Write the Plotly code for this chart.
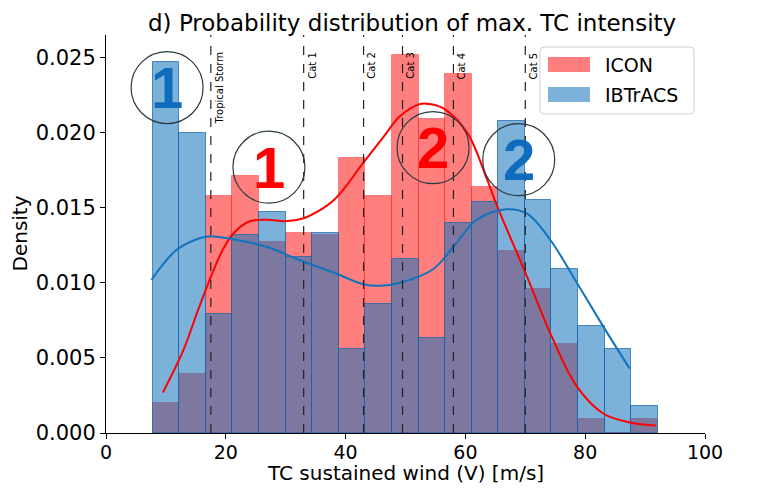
import plotly.graph_objects as go

# ---------------- data ----------------
bin_start = 7.8
bin_width = 4.437
icon_density = [0.0020, 0.0039, 0.0158, 0.0171, 0.0127, 0.0133, 0.0132, 0.0183, 0.0158, 0.0252,
                0.0209, 0.0239, 0.0164, 0.0121, 0.0096, 0.0059, 0.0009, 0.0, 0.0009]
ibtracs_density = [0.0247, 0.0200, 0.0079, 0.0132, 0.0147, 0.0117, 0.0133, 0.0056, 0.0086, 0.0116,
                   0.0063, 0.0140, 0.0154, 0.0208, 0.0155, 0.0109, 0.0071, 0.0056, 0.0018]

icon_kde_x = [9.5, 12.9, 15.2, 17.5, 19.5, 21.3, 24.0, 27.0, 30.0, 33.0, 36.0, 38.0, 40.0, 42.4,
              46.3, 49.1, 52.4, 54.0, 56.4, 60.3, 63.6, 65.3, 70.3, 74.1, 78.6, 83.0, 87.5, 91.8]
icon_kde_y = [0.0027, 0.0055, 0.0080, 0.0104, 0.0122, 0.0133, 0.0141, 0.0142, 0.0141, 0.0143,
              0.0149, 0.0155, 0.0164, 0.0177, 0.0197, 0.0211, 0.0219, 0.0219, 0.0216, 0.0200,
              0.0169, 0.0151, 0.0104, 0.0067, 0.0031, 0.0013, 0.0007, 0.0005]

ibtracs_kde_x = [7.6, 11.8, 15.9, 17.5, 21.2, 26.8, 32.4, 37.9, 43.0, 45.7, 49.1, 54.6, 58.0,
                 61.9, 66.9, 70.3, 74.1, 78.6, 83.0, 87.4]
ibtracs_kde_y = [0.0102, 0.0122, 0.0130, 0.0131, 0.0129, 0.0124, 0.0115, 0.0107, 0.0099, 0.0098,
                 0.0100, 0.0109, 0.0124, 0.0142, 0.0149, 0.0146, 0.0129, 0.0100, 0.0071, 0.0043]

category_names = ["Tropical Storm", "Cat 1", "Cat 2", "Cat 3", "Cat 4", "Cat 5"]
category_thresholds = [17.5, 33, 43, 49.5, 58, 70]

markers = [  # label, x, y, color
    ("1", 10.2, 0.0230, "#0f6cbd"),
    ("1", 27.2, 0.0177, "#ff0000"),
    ("2", 54.6, 0.0190, "#ff0000"),
    ("2", 68.9, 0.0182, "#0f6cbd"),
]

series_names = ["ICON", "IBTrACS"]
x_ticks = [0, 20, 40, 60, 80, 100]
y_ticks = [0.000, 0.005, 0.010, 0.015, 0.020, 0.025]
title_text = "d) Probability distribution of max. TC intensity"
x_title = "TC sustained wind (V) [m/s]"
y_title = "Density"

# ---------------- styling ----------------
FONT = "DejaVu Sans"
RED_FILL = "rgba(255,0,0,0.5)"
BLUE_FILL = "rgba(17,115,187,0.55)"
RED_LINE = "#ff0000"
BLUE_LINE = "#1173bb"

W, H = 749, 485           # page body has an 8px margin
ML, MR, MT, MB = 98, 52, 27, 60
PW, PH = W - ML - MR, H - MT - MB

centers = [bin_start + bin_width * (i + 0.5) for i in range(len(icon_density))]

fig = go.Figure()
fig.add_trace(go.Bar(x=centers, y=icon_density, width=bin_width, name=series_names[0],
                     marker=dict(color=RED_FILL, line=dict(color="rgba(255,0,0,0.35)", width=1)),
                     showlegend=False))
fig.add_trace(go.Bar(x=centers, y=ibtracs_density, width=bin_width, name=series_names[1],
                     marker=dict(color=BLUE_FILL, line=dict(color="rgba(17,100,170,0.7)", width=1)),
                     showlegend=False))
fig.add_trace(go.Scatter(x=icon_kde_x, y=icon_kde_y, mode="lines", line=dict(color=RED_LINE, width=2, shape="spline"),
                         showlegend=False, hoverinfo="skip"))
fig.add_trace(go.Scatter(x=ibtracs_kde_x, y=ibtracs_kde_y, mode="lines", line=dict(color=BLUE_LINE, width=2, shape="spline"),
                         showlegend=False, hoverinfo="skip"))

shapes = []
annotations = []
# category lines
for name, thr in zip(category_names, category_thresholds):
    shapes.append(dict(type="line", xref="x", yref="paper", x0=thr, x1=thr, y0=0, y1=1,
                       line=dict(color="#222222", width=1.2, dash="dash"), layer="above"))
    annotations.append(dict(text=name, x=thr, xref="x", y=0.962, yref="paper", xanchor="left",
                            yanchor="top", xshift=1, textangle=-90, showarrow=False,
                            font=dict(family=FONT, size=10, color="black")))

# circled numbers
for label, cx, cy, col in markers:
    shapes.append(dict(type="circle", xref="x", yref="y", xsizemode="pixel", ysizemode="pixel",
                       xanchor=cx, yanchor=cy, x0=-36, x1=36, y0=-36, y1=36,
                       line=dict(color="#2b3a42", width=1.2), layer="above"))
    annotations.append(dict(text="<b>%s</b>" % label, x=cx, y=cy, xref="x", yref="y", showarrow=False,
                            xanchor="center", yanchor="middle",
                            font=dict(family="Liberation Sans", size=58, color=col)))

# legend (drawn manually to mimic wide patches); coords given in window pixels
def px(xp):
    return (xp - 106) / PW
def py(yp):
    return (433 - yp) / PH
x0, x1, y0, y1 = px(540), px(694), py(114), py(47)
rx, ry = 4 / PW, 4 / PH
path = (f"M {x0+rx},{y0} L {x1-rx},{y0} Q {x1},{y0} {x1},{y0+ry} L {x1},{y1-ry} Q {x1},{y1} {x1-rx},{y1} "
        f"L {x0+rx},{y1} Q {x0},{y1} {x0},{y1-ry} L {x0},{y0+ry} Q {x0},{y0} {x0+rx},{y0} Z")
shapes.append(dict(type="path", xref="paper", yref="paper", path=path,
                   fillcolor="rgba(255,255,255,0.8)", line=dict(color="#d0d0d0", width=1), layer="above"))
for i, (name, fill) in enumerate(zip(series_names, [RED_FILL, BLUE_FILL])):
    top = 57 + 30 * i
    shapes.append(dict(type="rect", xref="paper", yref="paper", x0=px(548), x1=px(590),
                       y0=py(top + 15), y1=py(top), fillcolor=fill, line=dict(width=0), layer="above"))
    annotations.append(dict(text=name, x=px(603), y=py(top + 7.5), xref="paper", yref="paper",
                            xanchor="left", yanchor="middle", showarrow=False,
                            font=dict(family=FONT, size=19, color="black")))

# title and axis titles as positioned texts
annotations.append(dict(text=title_text, x=px(412), y=py(23), xref="paper", yref="paper",
                        xanchor="center", yanchor="middle", showarrow=False, borderpad=0,
                        font=dict(family=FONT, size=23, color="black")))
annotations.append(dict(text=x_title, x=px(405), y=py(473), xref="paper", yref="paper",
                        xanchor="center", yanchor="middle", showarrow=False,
                        font=dict(family=FONT, size=20, color="black")))
annotations.append(dict(text=y_title, x=px(19.5), y=py(234), xref="paper", yref="paper",
                        xanchor="center", yanchor="middle", showarrow=False, textangle=-90,
                        font=dict(family=FONT, size=20, color="black")))

fig.update_layout(
    width=W, height=H,
    margin=dict(l=ML, r=MR, t=MT, b=MB),
    paper_bgcolor="white", plot_bgcolor="white",
    barmode="overlay", bargap=0,
    font=dict(family=FONT, size=20, color="black"),
    shapes=shapes, annotations=annotations,
    showlegend=False,
)
fig.update_xaxes(range=[0, 100], tickvals=x_ticks, ticks="outside", ticklen=5, tickcolor="black",
                 showline=True, linecolor="black", linewidth=1, showgrid=False, zeroline=False,
                 automargin=False, tickfont=dict(size=19), ticklabelstandoff=-3)
fig.update_yaxes(range=[0, 0.0265], tickvals=y_ticks, tickformat=".3f", ticks="outside", ticklen=5,
                 tickcolor="black", showline=True, linecolor="black", linewidth=1,
                 showgrid=False, zeroline=False, automargin=False, tickfont=dict(size=21))

fig.write_html("out.html")
